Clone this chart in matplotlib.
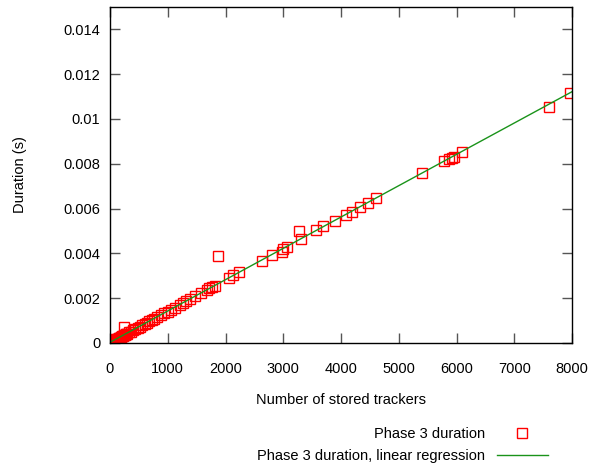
import matplotlib
matplotlib.use("Agg")
import matplotlib.pyplot as plt
import numpy as np
from matplotlib.ticker import FuncFormatter

plt.rcParams['font.family'] = ['Liberation Sans', 'DejaVu Sans']

# stored trackers vs phase 3 duration (s)
trackers = [0, 2, 5, 8, 10, 12, 15, 20, 25, 30, 35, 42, 50, 58, 65, 72, 80,
            90, 100, 110, 120, 130, 140, 150, 160, 172, 185, 197, 210, 225,
            240, 242, 255, 270, 285, 300, 330, 360, 400, 440, 480, 520, 560,
            600, 640, 680, 720, 770, 820, 880, 940, 1000, 1060, 1120, 1212,
            1264, 1316, 1385, 1472, 1576, 1680, 1714, 1766, 1818, 1870, 2061,
            2130, 2234, 2632, 2805, 2978, 2996, 3065, 3273, 3307, 3567, 3688,
            3896, 4087, 4190, 4329, 4468, 4606, 5403, 5784, 5870, 5922, 5957,
            6095, 7602, 7965]
duration = [0.00001, 0.00003, 0.00002, 0.00001, 0.00003, 0.00004, 0.00002,
            0.00004, 0.00005, 0.00005, 0.00006, 0.00007, 0.00008, 0.00009,
            0.00010, 0.00011, 0.00012, 0.00013, 0.00014, 0.00016, 0.00017,
            0.00018, 0.00020, 0.00021, 0.00023, 0.00024, 0.00026, 0.00028,
            0.00030, 0.00032, 0.00034, 0.00072, 0.00036, 0.00038, 0.00040,
            0.00042, 0.00047, 0.00050, 0.00057, 0.00062, 0.00068, 0.00073,
            0.00079, 0.00085, 0.00090, 0.00096, 0.00101, 0.00108, 0.00115,
            0.00124, 0.00132, 0.00140, 0.00149, 0.00157, 0.00170, 0.00179,
            0.00188, 0.00196, 0.00210, 0.00223, 0.00237, 0.00245, 0.00250,
            0.00254, 0.00388, 0.00290, 0.00303, 0.00317, 0.00366, 0.00393,
            0.00406, 0.00420, 0.00429, 0.00500, 0.00464, 0.00504, 0.00522,
            0.00545, 0.00571, 0.00585, 0.00607, 0.00625, 0.00647, 0.00759,
            0.00813, 0.00820, 0.00826, 0.00830, 0.00853, 0.01054, 0.01116]

x = np.array(trackers, dtype=float)
y = np.array(duration)
slope, intercept = np.polyfit(x, y, 1)
xfit = np.linspace(0, 8000, 200)

fig = plt.figure(figsize=(6.02, 4.71), dpi=100, facecolor='white')
ax = fig.add_axes([110 / 602, 1 - 343 / 471, 462 / 602, 336 / 471])

ax.plot(x, y, 's', linestyle='none', markersize=6.5, markerfacecolor='none',
        markeredgecolor='#ff0000', markeredgewidth=1.0,
        label='Phase 3 duration')
ax.plot(xfit, slope * xfit + intercept, '-', color='#1a931a', linewidth=1.0,
        label='Phase 3 duration, linear regression')

ax.set_xlim(0, 8000)
ax.set_ylim(0, 0.015)
ax.set_xticks(np.arange(0, 8001, 1000))
ax.set_yticks(np.arange(0, 0.0141, 0.002))
ax.yaxis.set_major_formatter(FuncFormatter(lambda v, p: '%g' % round(v, 6)))
ax.tick_params(direction='in', length=7, width=1, color='#555555',
               top=True, right=True, labelsize=10.5)
ax.tick_params(axis='x', pad=14)
ax.tick_params(axis='y', pad=7)
for s in ax.spines.values():
    s.set_linewidth(1.0)

ax.set_xlabel('Number of stored trackers', fontsize=10.5, labelpad=12)
ax.set_ylabel('Duration (s)', fontsize=10.5, labelpad=26)

ax.legend(loc='upper right', bbox_to_anchor=(548 / 602, 1 - 427 / 471),
          bbox_transform=fig.transFigure, markerfirst=False, frameon=False,
          fontsize=10.5, handlelength=3.5, handletextpad=0.8,
          borderpad=0, borderaxespad=0, labelspacing=0.55, numpoints=1)

plt.savefig('out.png', dpi=100)
